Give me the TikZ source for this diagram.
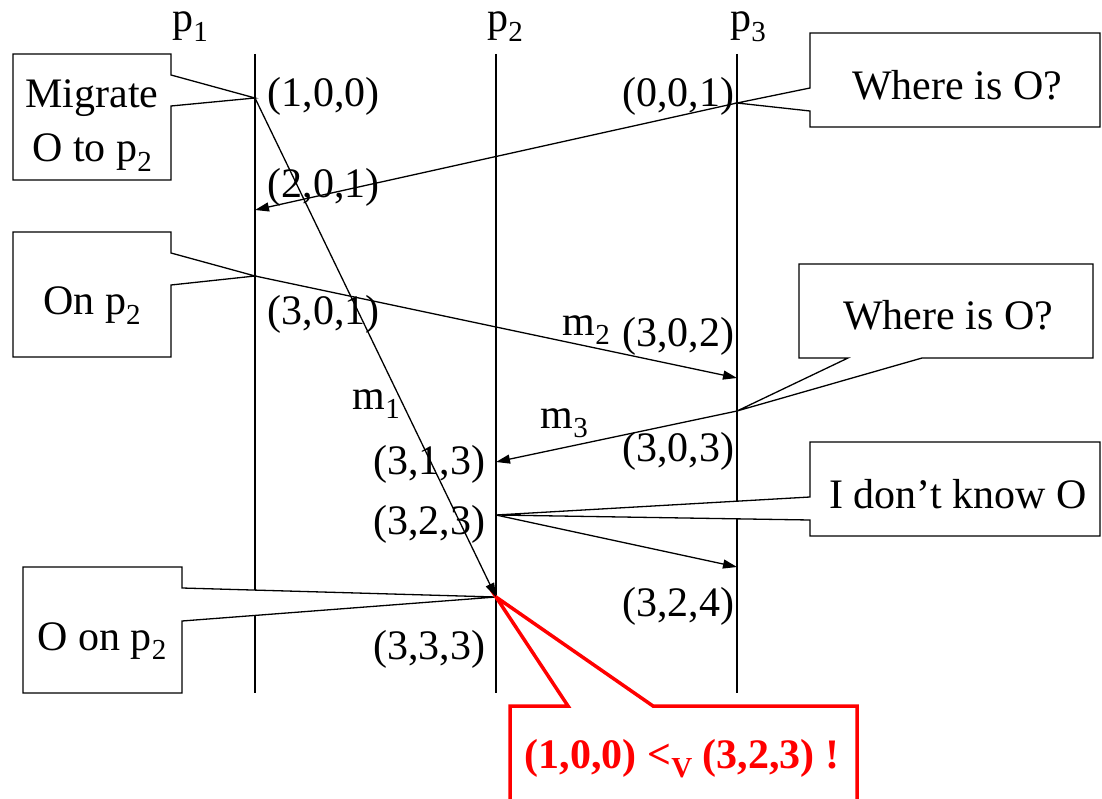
\documentclass[tikz,border=0pt]{standalone}
\usepackage{fontspec}
\setmainfont{Liberation Serif}
\usetikzlibrary{arrows.meta}
\newcommand{\lowsub}[1]{\raisebox{-0.22em}{\fontsize{29}{30}\selectfont #1}}

\begin{document}
\begin{tikzpicture}[x=1pt, y=-1pt, line width=1.3pt,
    font=\fontsize{42}{50}\selectfont,
    msg/.style={-{Triangle[length=14pt,width=9pt]}},
    callout/.style={draw=borderColour, fill=white, line join=miter},
    stamp/.style={inner sep=0pt}]
    % Define colours
    \definecolor{borderColour}{HTML}{000000}
    \definecolor{alertColour}{HTML}{FF0000}

    % Define process line limits
    \def\topY{54}
    \def\botY{693}

    \useasboundingbox (0,0) rectangle (1102,799);

    % Draw process labels
    \node[anchor=base] (p1) at (190,32) {p\lowsub{1}};
    \node[anchor=base] (p2) at (505,32) {p\lowsub{2}};
    \node[anchor=base] (p3) at (748,32) {p\lowsub{3}};

    % Draw process lines
    \foreach \name/\x in {p1/255, p2/496, p3/737} {
        \coordinate (\name top) at (\x,\topY);
        \coordinate (\name bot) at (\x,\botY);
        \draw[borderColour] (\name top) -- (\name bot);
    }

    % Define coordinates for the events
    \coordinate (e11) at (255,98);
    \coordinate (e12) at (255,210);
    \coordinate (e13) at (255,276);
    \coordinate (e21) at (496,462);
    \coordinate (e22) at (496,515);
    \coordinate (e23) at (496,597);
    \coordinate (e31) at (737,103);
    \coordinate (e32) at (737,378);
    \coordinate (e33) at (737,411);
    \coordinate (e34) at (737,567);

    % Draw the callouts
    \filldraw[callout] (13,54) -- (171,54) -- (171,75) -- (e11) -- (171,106) -- (171,180) -- (13,180) -- cycle;
    \filldraw[callout] (810,33) -- (1100,33) -- (1100,127) -- (810,127) -- (810,111) -- (e31) -- (810,88) -- cycle;
    \filldraw[callout] (13,232) -- (171,232) -- (171,253) -- (e13) -- (171,285) -- (171,357) -- (13,357) -- cycle;
    \filldraw[callout] (799,264) -- (1093,264) -- (1093,358) -- (922,358) -- (e33) -- (848,358) -- (799,358) -- cycle;
    \filldraw[callout] (810,442) -- (1100,442) -- (1100,536) -- (810,536) -- (810,520) -- (e22) -- (810,497) -- cycle;
    \filldraw[callout] (23,567) -- (182,567) -- (182,588) -- (e23) -- (182,621) -- (182,693) -- (23,693) -- cycle;
    \filldraw[callout, draw=alertColour, line width=3.5pt] (510,706) -- (568,706) -- (e23) -- (653,706) -- (857,706) -- (857,812) -- (510,812) -- cycle;

    % Callout texts
    \node[anchor=base] (migrate) at (92,108) {Migrate};
    \node[anchor=base] (migrateto) at (92,162) {O to p\lowsub{2}};
    \node[anchor=base] (where1) at (957,100) {Where is O?};
    \node[anchor=base] (onp2) at (92,315) {On p\lowsub{2}};
    \node[anchor=base] (where2) at (948,330) {Where is O?};
    \node[anchor=base] (dontknow) at (958,508) {I don’t know O};
    \node[anchor=base] (oonp2) at (102,650) {O on p\lowsub{2}};
    \node[anchor=base, text=alertColour, font=\fontsize{42}{50}\selectfont\bfseries] (alert) at (682,768) {(1,0,0) <\lowsub{V} (3,2,3) !};

    % Draw the messages
    \draw[msg] (e31) -- (e12);
    \draw[msg] (e11) -- (e23);
    \draw[msg] (e13) -- (e32);
    \draw[msg] (e33) -- (e21);
    \draw[msg] (e22) -- (e34);

    % Label the events
    \node[stamp, anchor=west] (v11) at (267,96) {(1,0,0)};
    \node[stamp, anchor=west] (v12) at (267,187) {(2,0,1)};
    \node[stamp, anchor=west] (v13) at (267,314) {(3,0,1)};
    \node[stamp, anchor=east] (v31) at (735,96) {(0,0,1)};
    \node[stamp, anchor=east] (v32) at (735,336) {(3,0,2)};
    \node[stamp, anchor=east] (v33) at (735,451) {(3,0,3)};
    \node[stamp, anchor=east] (v34) at (735,606) {(3,2,4)};
    \node[stamp, anchor=east] (v21) at (486,464) {(3,1,3)};
    \node[stamp, anchor=east] (v22) at (486,524) {(3,2,3)};
    \node[stamp, anchor=east] (v23) at (486,649) {(3,3,3)};

    % Label the messages
    \node[stamp, anchor=base west] (m1) at (352,409) {m\lowsub{1}};
    \node[stamp, anchor=base west] (m2) at (562,335) {m\lowsub{2}};
    \node[stamp, anchor=base west] (m3) at (540,428) {m\lowsub{3}};
\end{tikzpicture}
\end{document}
